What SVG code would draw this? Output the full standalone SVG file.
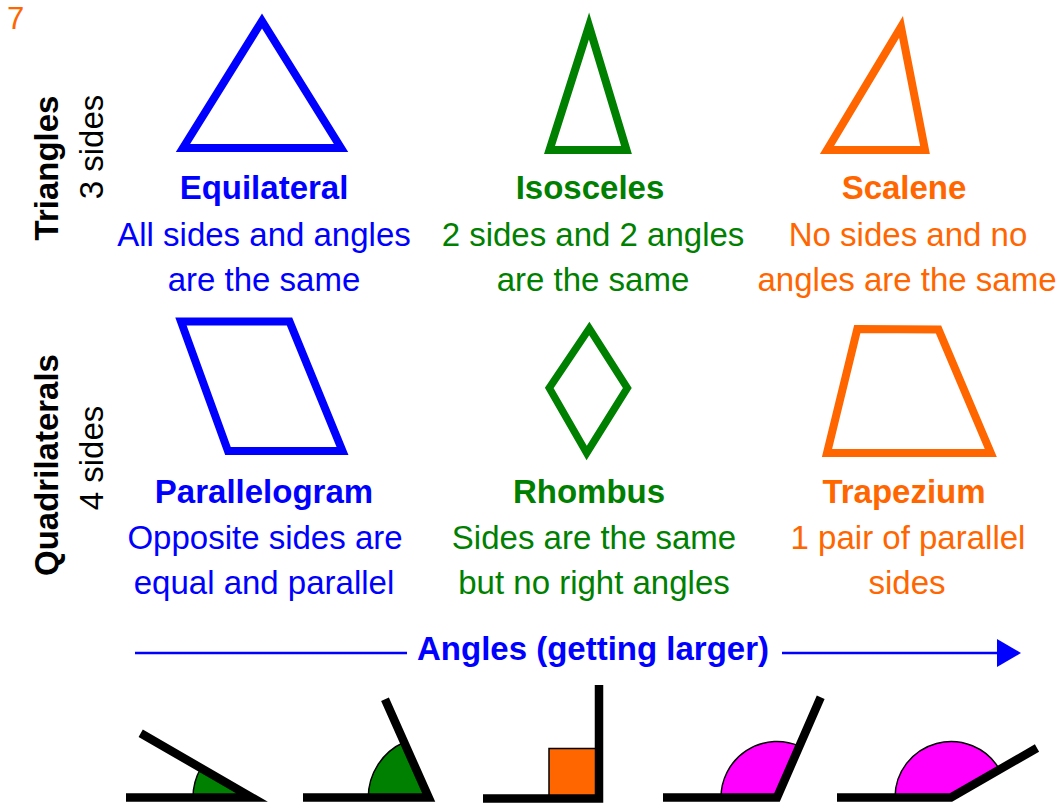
<svg xmlns="http://www.w3.org/2000/svg" width="1064" height="809" viewBox="0 0 1064 809">
<style>
text{font-family:"Liberation Sans",Arial,sans-serif;font-size:33px;text-anchor:middle}
.b{font-weight:bold}
.blue{fill:#0000FF}
.green{fill:#008000}
.orange{fill:#FF6600}
.blk{fill:#000}
.shape{fill:none;stroke-width:8;stroke-linejoin:miter}
.sb{stroke:#0000FF}
.sg{stroke:#008000}
.so{stroke:#FF6600}
.arm{fill:none;stroke:#000;stroke-width:8.5;stroke-linejoin:miter;stroke-linecap:butt}
.sec{stroke:#000;stroke-width:1.5}
</style>
<rect width="1064" height="809" fill="#fff"/>
<text x="7" y="29" class="orange" style="text-anchor:start;font-size:31px">7</text>

<g id="label-triangles">
<text class="b blk" transform="translate(58,168) rotate(-90)">Triangles</text>
<text class="blk" transform="translate(103,147) rotate(-90)">3 sides</text>
</g>
<g id="label-quadrilaterals">
<text class="b blk" transform="translate(58,465) rotate(-90)">Quadrilaterals</text>
<text class="blk" transform="translate(103,458) rotate(-90)">4 sides</text>
</g>

<g id="equilateral">
<polygon class="shape sb" points="262,21 341,148 183,148"/>
<text x="264" y="199" class="b blue">Equilateral</text>
<text x="264" y="246" class="blue">All sides and angles</text>
<text x="264" y="291" class="blue">are the same</text>
</g>
<g id="isosceles">
<polygon class="shape sg" points="589,26 626.5,150 549.5,150"/>
<text x="590" y="199" class="b green">Isosceles</text>
<text x="593" y="246" class="green">2 sides and 2 angles</text>
<text x="593" y="291" class="green">are the same</text>
</g>
<g id="scalene">
<polygon class="shape so" points="901,27 925,150 827,150"/>
<text x="904" y="199" class="b orange">Scalene</text>
<text x="908" y="246" class="orange">No sides and no</text>
<text x="907" y="291" class="orange">angles are the same</text>
</g>

<g id="parallelogram">
<polygon class="shape sb" points="181,321.5 289.5,321.5 342.5,451 228,451"/>
<text x="264" y="503" class="b blue">Parallelogram</text>
<text x="265" y="549" class="blue">Opposite sides are</text>
<text x="264" y="594" class="blue">equal and parallel</text>
</g>
<g id="rhombus">
<polygon class="shape sg" style="stroke-width:7.5" points="589.3,328.5 627.3,388 586.7,453 549.3,388"/>
<text x="589" y="503" class="b green">Rhombus</text>
<text x="594" y="549" class="green">Sides are the same</text>
<text x="594" y="594" class="green">but no right angles</text>
</g>
<g id="trapezium">
<polygon class="shape so" points="857.3,329 938.5,329.5 990.8,453 827,453"/>
<text x="904" y="503" class="b orange">Trapezium</text>
<text x="908" y="549" class="orange">1 pair of parallel</text>
<text x="907" y="594" class="orange">sides</text>
</g>

<g id="connectors">
<line x1="135" y1="653" x2="407" y2="653" stroke="#0000FF" stroke-width="2.5"/>
<line x1="782" y1="653" x2="999" y2="653" stroke="#0000FF" stroke-width="2.5"/>
<polygon points="997,639 1021,653 997,667" fill="#0000FF"/>
</g>
<g id="angles-title">
<text x="593" y="660" class="b blue">Angles (getting larger)</text>
</g>

<g id="angle-acute-small">
<path class="sec" fill="#008000" d="M252,797.5 L193,797.5 A59,59 0 0 1 200.9,768 Z"/>
<polyline class="arm" points="126,797.5 252,797.5 140.7,733.3"/>
</g>
<g id="angle-acute-large">
<path class="sec" fill="#008000" d="M428.7,797.5 L368.3,797.5 A60.4,60.4 0 0 1 404.1,742.3 Z"/>
<polyline class="arm" points="303,797.5 428.7,797.5 385,699.3"/>
</g>
<g id="angle-right">
<rect x="549" y="748.5" width="50" height="49" fill="#FF6600" stroke="#000" stroke-width="1.5"/>
<polyline class="arm" points="483,798.5 599,798.5 599,685"/>
</g>
<g id="angle-obtuse">
<path class="sec" fill="#FF00FF" d="M777,797.5 L721,797.5 A56,56 0 0 1 799.4,746.2 Z"/>
<polyline class="arm" points="663,797.5 777,797.5 820.7,697.3"/>
</g>
<g id="angle-obtuse-large">
<path class="sec" fill="#FF00FF" d="M951,797.5 L895,797.5 A56,56 0 0 1 999.5,769.5 Z"/>
<polyline class="arm" points="837,797.5 951,797.5 1037,748"/>
</g>
</svg>
